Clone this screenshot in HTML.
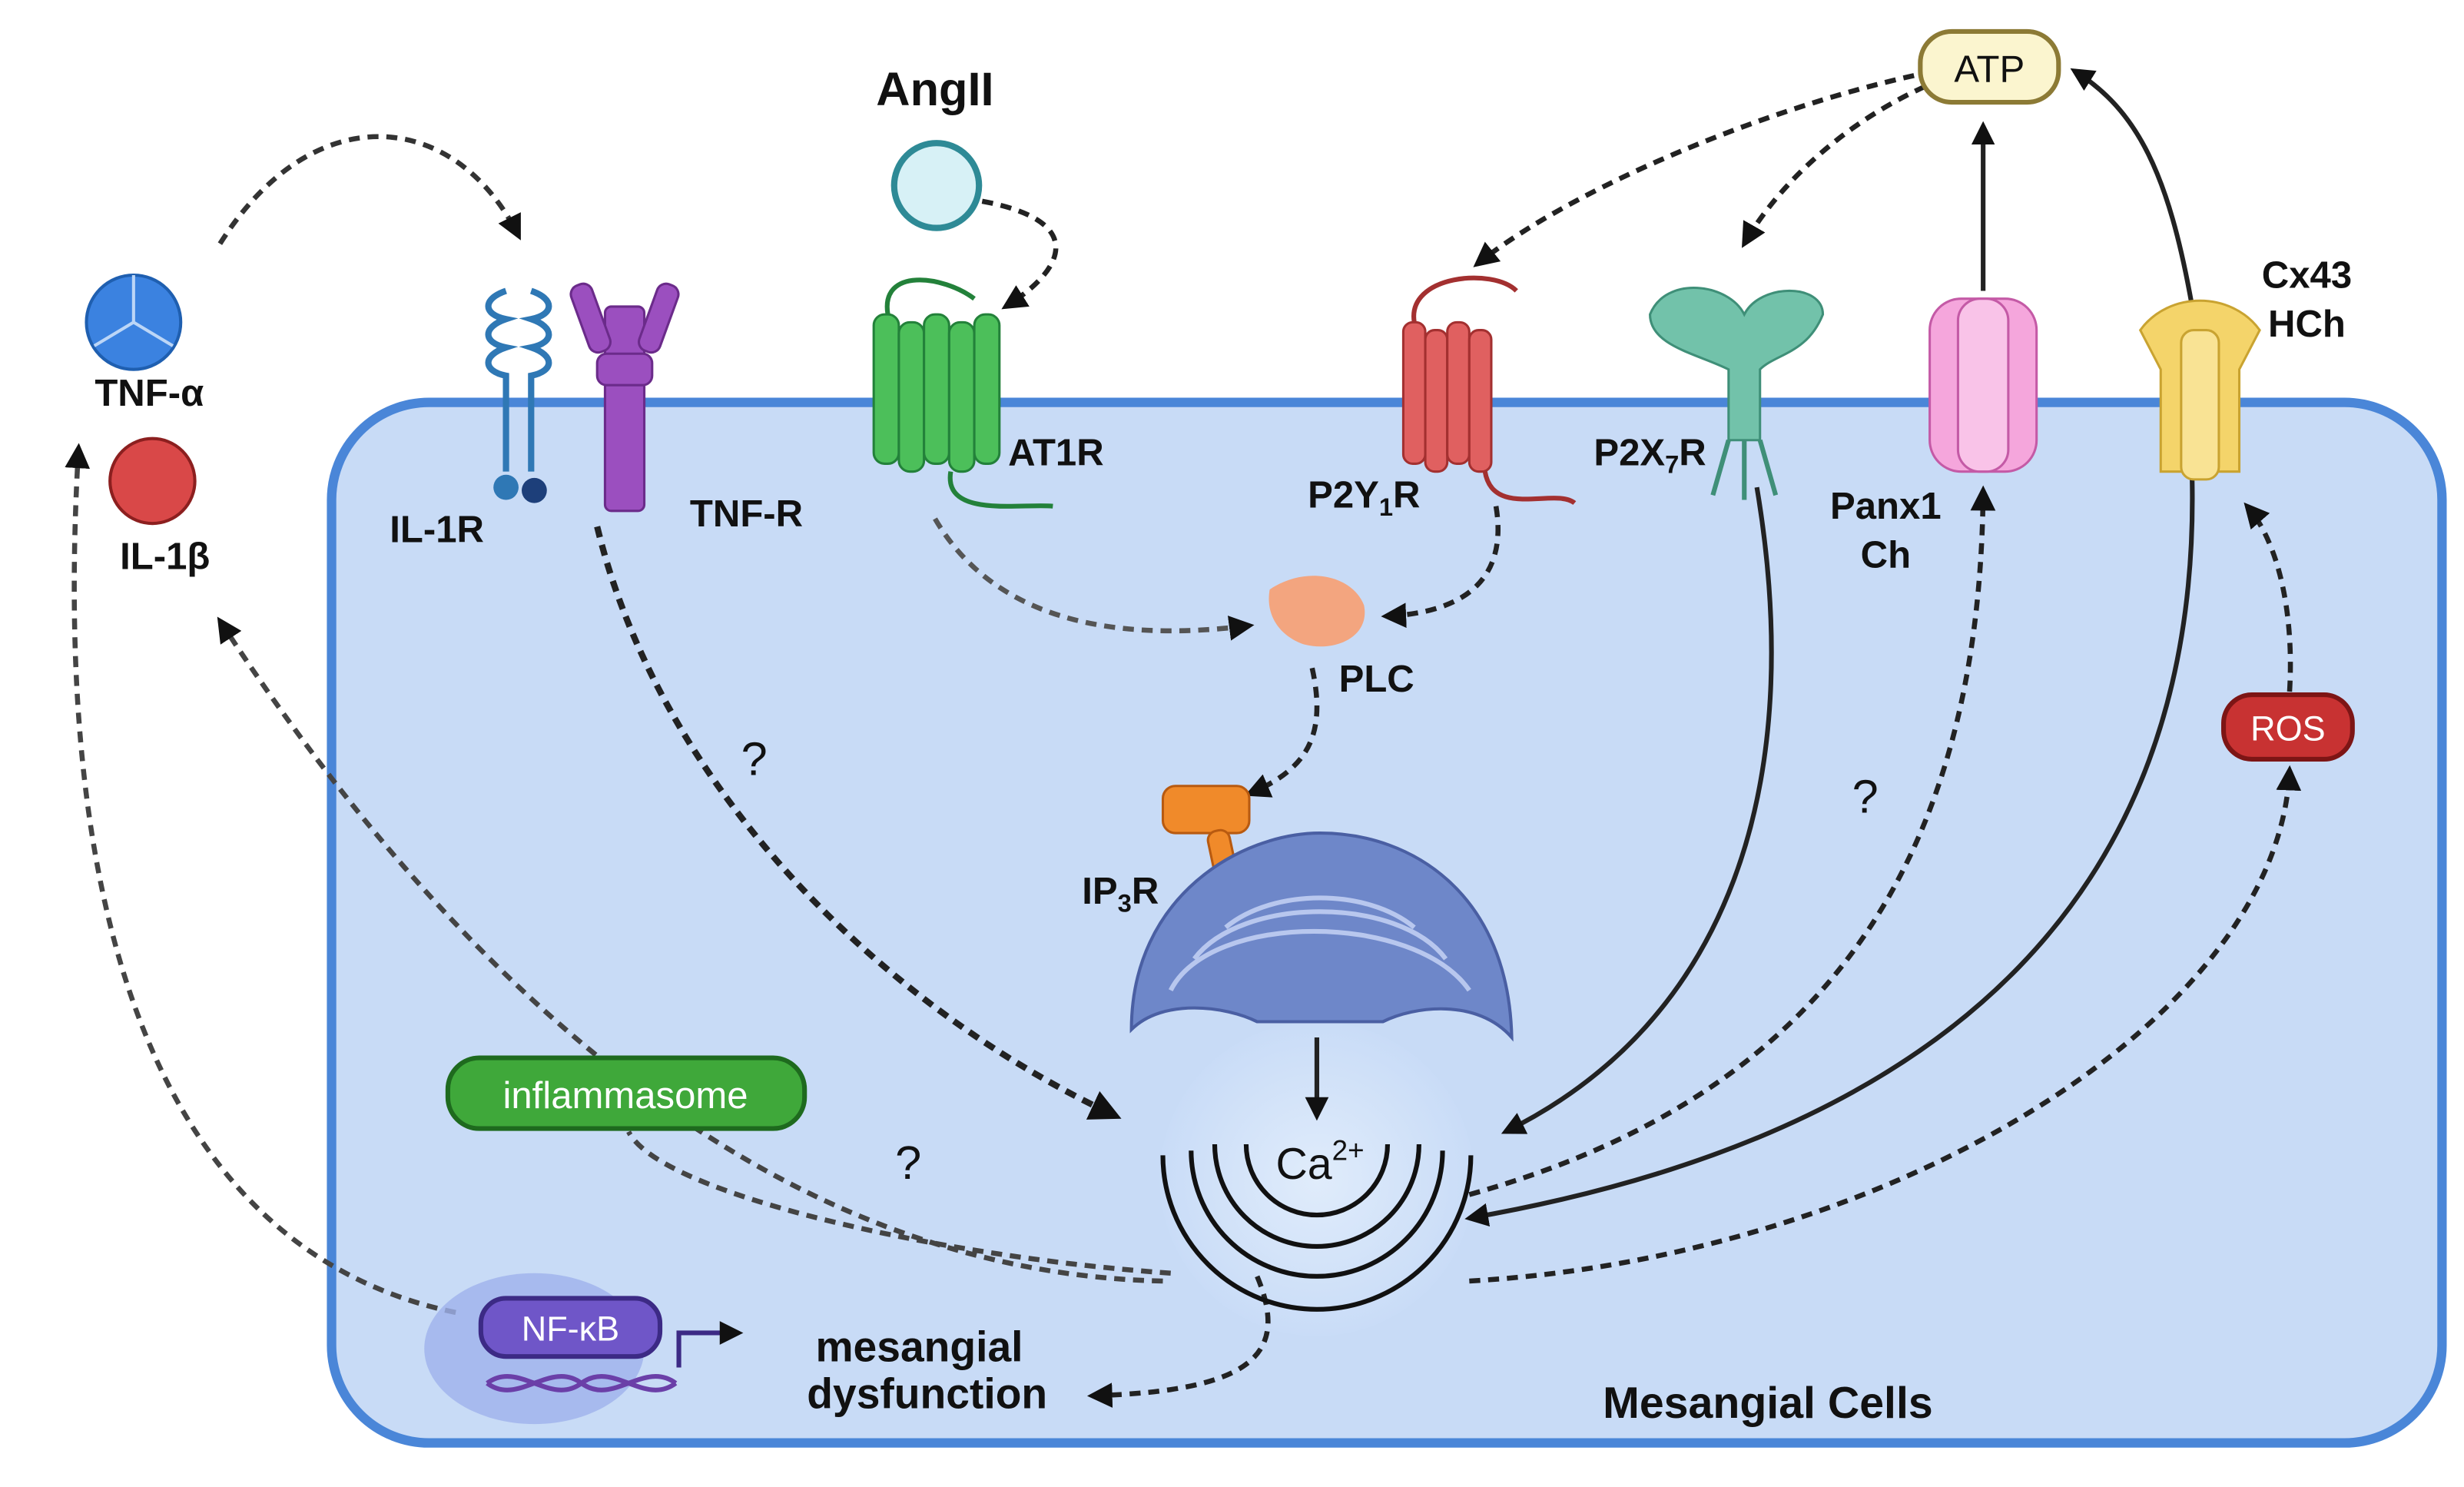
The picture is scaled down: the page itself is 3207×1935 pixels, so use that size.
<!DOCTYPE html>
<html><head><meta charset="utf-8"><style>
html,body{margin:0;padding:0;background:#fff;}
svg{display:block}
text{font-family:"Liberation Sans",sans-serif;font-weight:bold;fill:#111}
</style></head><body>
<svg width="3207" height="1935" viewBox="0 0 1568 946" xmlns="http://www.w3.org/2000/svg">
<defs>
<marker id="ah" viewBox="0 0 10 10" refX="8" refY="5" markerWidth="5" markerHeight="5" orient="auto-start-reverse"><path d="M0,0 L10,5 L0,10 z" fill="#111"/></marker>
<radialGradient id="cag" cx="0.5" cy="0.5" r="0.5"><stop offset="0" stop-color="#e0ecfb"/><stop offset="1" stop-color="#c9dcf7"/></radialGradient>
</defs>
<rect x="211" y="256" width="1343" height="662" rx="62" fill="#c8dbf6" stroke="#4a86d8" stroke-width="6"/>
<circle cx="838" cy="750" r="100" fill="url(#cag)"/>

<g fill="none" stroke="#222" stroke-width="3.2" stroke-dasharray="7,5">
<path d="M140,155 C200,60 290,70 330,150" stroke="#333" marker-end="url(#ah)"/>
<path d="M625,128 C690,140 680,170 640,195" marker-end="url(#ah)"/>
<path d="M1218,48 C1120,70 1000,120 940,168" marker-end="url(#ah)"/>
<path d="M1225,55 C1170,80 1130,120 1110,155" marker-end="url(#ah)"/>
<path d="M595,330 C630,390 700,410 795,398" stroke="#555" marker-end="url(#ah)"/>
<path d="M952,322 C960,370 930,390 882,392" marker-end="url(#ah)"/>
<path d="M835,425 C845,470 830,490 795,505" marker-end="url(#ah)"/>
<path d="M380,335 C420,500 560,640 710,710" stroke-width="4" marker-end="url(#ah)"/>
<path d="M800,812 C820,860 800,885 695,888" marker-end="url(#ah)"/>
<path d="M935,760 C1150,700 1260,560 1262,312" marker-end="url(#ah)"/>
<path d="M935,815 C1200,800 1450,650 1457,490" marker-end="url(#ah)"/>
<path d="M1457,440 C1460,390 1450,345 1430,322" marker-end="url(#ah)"/>
<path d="M745,810 C600,800 420,760 400,720" stroke="#444"/>
<path d="M740,815 C500,810 300,640 140,395" stroke="#444" marker-end="url(#ah)"/>
<path d="M290,835 C120,800 30,620 50,285" stroke="#444" marker-end="url(#ah)"/>
</g>
<g fill="none" stroke="#222" stroke-width="3">
<path d="M1262,185 L1262,80" marker-end="url(#ah)"/>
<path d="M1395,195 C1380,110 1360,70 1320,45" marker-end="url(#ah)"/>
<path d="M1118,310 C1150,500 1100,650 958,720" marker-end="url(#ah)"/>
<path d="M1395,305 C1400,560 1250,720 935,775" marker-end="url(#ah)"/>
<path d="M838,660 L838,710" marker-end="url(#ah)"/>
</g>

<g stroke="#1f5fb0" stroke-width="2" fill="#3b82e0">
<circle cx="85" cy="205" r="30"/>
<path d="M85,205 L85,175 M85,205 L60,220 M85,205 L110,220" stroke="#bcd6f7"/>
</g>
<circle cx="97" cy="306" r="27" fill="#d94848" stroke="#8c1f1f" stroke-width="2"/>
<circle cx="596" cy="118" r="27" fill="#d7f1f6" stroke="#2e8a96" stroke-width="4"/>

<g fill="none" stroke="#2f78b5" stroke-width="4">
<path d="M322,185 c-15,5 -15,15 0,18 c-15,5 -15,15 0,18 c-15,5 -15,15 0,18 L322,300"/>
<path d="M338,185 c15,5 15,15 0,18 c15,5 15,15 0,18 c15,5 15,15 0,18 L338,300"/>
</g>
<circle cx="322" cy="310" r="8" fill="#2f78b5"/><circle cx="340" cy="312" r="8" fill="#1d3f7a"/>
<g fill="#9b4fbf" stroke="#6b2b8a" stroke-width="1.5">
<rect x="385" y="195" width="25" height="130" rx="4"/>
<rect x="368" y="180" width="14" height="45" rx="6" transform="rotate(-20 375 200)"/>
<rect x="413" y="180" width="14" height="45" rx="6" transform="rotate(20 420 200)"/>
<rect x="380" y="225" width="35" height="20" rx="6"/>
</g>
<g fill="#4cbf5a" stroke="#23813a" stroke-width="1.5">
<rect x="556" y="200" width="16" height="95" rx="7"/><rect x="572" y="205" width="16" height="95" rx="7"/>
<rect x="588" y="200" width="16" height="95" rx="7"/><rect x="604" y="205" width="16" height="95" rx="7"/>
<rect x="620" y="200" width="16" height="95" rx="7"/>
</g>
<path d="M565,200 C560,170 600,175 620,190 M605,300 C600,330 650,320 670,322" fill="none" stroke="#23813a" stroke-width="3"/>
<g fill="#e06060" stroke="#a33030" stroke-width="1.5">
<rect x="893" y="205" width="14" height="90" rx="6"/><rect x="907" y="210" width="14" height="90" rx="6"/>
<rect x="921" y="205" width="14" height="90" rx="6"/><rect x="935" y="210" width="14" height="90" rx="6"/>
</g>
<path d="M900,205 C895,175 950,170 965,185 M945,300 C950,330 990,310 1002,320" fill="none" stroke="#a33030" stroke-width="3"/>
<g fill="#72c2aa" stroke="#3f8f78" stroke-width="1.5">
<path d="M1050,200 C1060,175 1100,180 1110,200 C1120,180 1160,180 1160,200 C1150,225 1130,225 1120,235 L1120,280 L1100,280 L1100,235 C1080,225 1050,220 1050,200 Z"/>
</g>
<path d="M1100,280 L1090,315 M1110,280 L1110,318 M1120,280 L1130,315" stroke="#3f8f78" stroke-width="3"/>
<g fill="#f5a6dc" stroke="#c45aa6" stroke-width="1.5">
<rect x="1228" y="190" width="68" height="110" rx="20"/>
<rect x="1246" y="190" width="32" height="110" rx="14" fill="#f9c3e8"/>
</g>
<g fill="#f4d46a" stroke="#c9a331" stroke-width="1.5">
<path d="M1362,210 C1380,185 1420,185 1438,210 L1425,235 L1425,300 L1375,300 L1375,235 Z"/>
<rect x="1388" y="210" width="24" height="95" rx="8" fill="#f9e394"/>
</g>
<path d="M808,375 C830,360 860,365 868,385 C872,405 850,415 830,410 C815,405 805,392 808,375 Z" fill="#f3a57f"/>
<g fill="#f08a2a" stroke="#b85a10" stroke-width="1.5">
<rect x="740" y="500" width="55" height="30" rx="8"/>
<rect x="772" y="528" width="14" height="50" rx="6" transform="rotate(-12 779 550)"/>
</g>
<path d="M720,655 C720,570 790,530 840,530 C900,530 960,570 962,660 C940,635 900,640 880,650 L800,650 C780,640 740,635 720,655 Z" fill="#6e87c9" stroke="#4a5fa3" stroke-width="2"/>
<g stroke="#b8c7ee" stroke-width="3" fill="none">
<path d="M745,630 C770,580 900,580 935,630"/><path d="M760,610 C790,570 890,570 920,610"/><path d="M780,590 C810,565 870,565 900,590"/>
</g>
<g fill="none" stroke="#111" stroke-width="3">
<path d="M793,728 A45,45 0 0 0 883,728"/>
<path d="M773,728 A65,65 0 0 0 903,728"/>
<path d="M758,732 A80,80 0 0 0 918,732"/>
<path d="M740,735 A98,98 0 0 0 936,735"/>
</g>

<rect x="1222" y="20" width="88" height="45" rx="20" fill="#fbf5cf" stroke="#8c7a35" stroke-width="3"/>
<text x="1266" y="52" text-anchor="middle" font-size="24" style="font-weight:normal">ATP</text>
<rect x="285" y="673" width="227" height="45" rx="20" fill="#3fa83a" stroke="#1e6a1e" stroke-width="3"/>
<text x="398" y="705" text-anchor="middle" font-size="24" style="fill:#fff;font-weight:normal">inflammasome</text>
<rect x="1415" y="442" width="82" height="41" rx="18" fill="#c83232" stroke="#7d1515" stroke-width="3"/>
<text x="1456" y="471" text-anchor="middle" font-size="22" style="fill:#fff;font-weight:normal">ROS</text>
<ellipse cx="340" cy="858" rx="70" ry="48" fill="#9fb2ec" opacity="0.8"/>
<rect x="306" y="826" width="114" height="37" rx="16" fill="#6f56c8" stroke="#3c2a85" stroke-width="3"/>
<text x="363" y="853" text-anchor="middle" font-size="22" style="fill:#fff;font-weight:normal">NF-κB</text>
<path d="M310,880 C330,865 350,895 370,880 C390,865 410,895 430,880 M310,880 C330,895 350,865 370,880 C390,895 410,865 430,880" fill="none" stroke="#6b3fa8" stroke-width="3"/>
<path d="M432,870 L432,848 L470,848" fill="none" stroke="#3c2a85" stroke-width="3" marker-end="url(#ah)"/>

<g font-size="24">
<text x="595" y="67" text-anchor="middle" font-size="30">AngII</text>
<text x="95" y="258" text-anchor="middle">TNF-α</text>
<text x="105" y="362" text-anchor="middle">IL-1β</text>
<text x="278" y="345" text-anchor="middle">IL-1R</text>
<text x="475" y="335" text-anchor="middle">TNF-R</text>
<text x="672" y="296" text-anchor="middle">AT1R</text>
<text x="868" y="323" text-anchor="middle">P2Y<tspan font-size="16" dy="5">1</tspan><tspan dy="-5">R</tspan></text>
<text x="1050" y="296" text-anchor="middle">P2X<tspan font-size="16" dy="5">7</tspan><tspan dy="-5">R</tspan></text>
<text x="1200" y="330" text-anchor="middle">Panx1</text>
<text x="1200" y="361" text-anchor="middle">Ch</text>
<text x="1468" y="183" text-anchor="middle">Cx43</text>
<text x="1468" y="214" text-anchor="middle">HCh</text>
<text x="876" y="440" text-anchor="middle">PLC</text>
<text x="713" y="575" text-anchor="middle">IP<tspan font-size="16" dy="5">3</tspan><tspan dy="-5">R</tspan></text>
<text x="840" y="750" text-anchor="middle" font-size="28" style="font-weight:normal">Ca<tspan font-size="18" dy="-12">2+</tspan></text>
<text x="480" y="493" text-anchor="middle" font-size="30" style="font-weight:normal">?</text>
<text x="578" y="750" text-anchor="middle" font-size="30" style="font-weight:normal">?</text>
<text x="1187" y="517" text-anchor="middle" font-size="30" style="font-weight:normal">?</text>
<text x="585" y="866" text-anchor="middle" font-size="27">mesangial</text>
<text x="590" y="896" text-anchor="middle" font-size="27">dysfunction</text>
<text x="1125" y="902" text-anchor="middle" font-size="28">Mesangial Cells</text>
</g>
</svg>
</body></html>
